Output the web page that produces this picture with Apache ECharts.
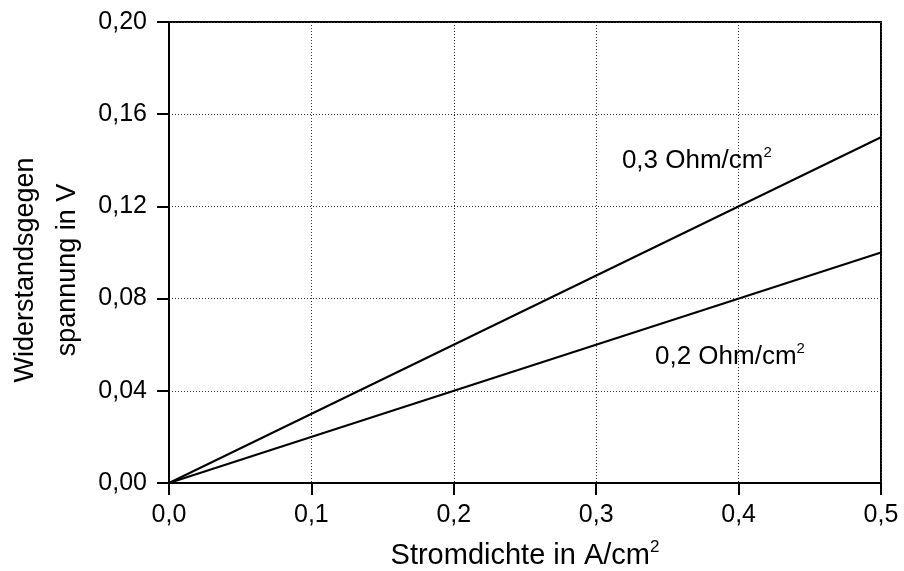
<!DOCTYPE html>
<html>
<head>
<meta charset="utf-8">
<script src="https://cdn.jsdelivr.net/npm/echarts@6/dist/echarts.min.js"></script>
<style>
  html, body { margin: 0; padding: 0; background: #fff; }
  #chart { width: 904px; height: 571px; }
</style>
</head>
<body>
<div id="chart"></div>
<script>
// Ohmic voltage drop U = R * i for two area resistances
const currentDensity = [0, 0.5];          // A/cm²
const voltageR03 = [0, 0.15];             // V, 0,3 Ohm/cm²
const voltageR02 = [0, 0.10];             // V, 0,2 Ohm/cm²
const seriesNames = ['0,3 Ohm/cm', '0,2 Ohm/cm'];

const FONT = 'Liberation Sans, Arial, Helvetica, sans-serif';
const comma = (v, d) => v.toFixed(d).replace('.', ',');

const pairs = (xs, ys) => xs.map((x, i) => [x, ys[i]]);

const chart = echarts.init(document.getElementById('chart'), null, { renderer: 'canvas' });

const labelRich = {
  b: { fontSize: 26, fontFamily: FONT, color: '#000', lineHeight: 30 },
  s: { fontSize: 15, fontFamily: FONT, color: '#000', lineHeight: 15, verticalAlign: 'top' }
};

function note(text, coord) {
  return {
    symbol: 'circle',
    symbolSize: 0,
    silent: true,
    data: [{ coord: coord }],
    label: {
      show: true,
      position: 'inside',
      formatter: '{b|' + text + '}{s|2}',
      rich: labelRich
    }
  };
}

chart.setOption({
  animation: false,
  backgroundColor: '#fff',
  grid: {
    left: 169, right: 23, top: 22, bottom: 88,
    containLabel: false,
    outerBoundsMode: 'none',
    show: true, borderColor: '#000', borderWidth: 2, backgroundColor: 'transparent'
  },
  graphic: [{
    type: 'text',
    x: 47, y: 270,
    rotation: Math.PI / 2,
    silent: true,
    style: {
      text: 'Widerstandsgegen\nspannung in V',
      fontSize: 27,
      fontFamily: FONT,
      fill: '#000',
      align: 'center',
      verticalAlign: 'middle',
      lineHeight: 42
    }
  }],
  xAxis: {
    type: 'value', min: 0, max: 0.5, interval: 0.1,
    name: '{b|Stromdichte in A/cm}{s|2}',
    nameLocation: 'middle', nameGap: 56,
    nameTextStyle: {
      rich: {
        b: { fontSize: 29, fontFamily: FONT, color: '#000', lineHeight: 33 },
        s: { fontSize: 17, fontFamily: FONT, color: '#000', lineHeight: 17, verticalAlign: 'top' }
      }
    },
    axisLine: { show: true, lineStyle: { color: '#000', width: 2 } },
    axisTick: { show: true, inside: false, length: 12, lineStyle: { color: '#000', width: 2 } },
    axisLabel: { color: '#000', fontSize: 25, fontFamily: FONT, margin: 20, formatter: v => comma(v, 1) },
    splitLine: { show: true, lineStyle: { color: '#333', width: 1, type: [1, 2] } }
  },
  yAxis: {
    type: 'value', min: 0, max: 0.2, interval: 0.04,
    axisLine: { show: true, lineStyle: { color: '#000', width: 2 } },
    axisTick: { show: true, inside: false, length: 12, lineStyle: { color: '#000', width: 2 } },
    axisLabel: { color: '#000', fontSize: 25, fontFamily: FONT, margin: 22, formatter: v => comma(v, 2) },
    splitLine: { show: true, lineStyle: { color: '#333', width: 1, type: [1, 2] } }
  },
  series: [
    {
      name: seriesNames[0], type: 'line', data: pairs(currentDensity, voltageR03),
      showSymbol: false, symbol: 'none',
      lineStyle: { color: '#000', width: 2 },
      markPoint: note(seriesNames[0], [0.3707, 0.1398])
    },
    {
      name: seriesNames[1], type: 'line', data: pairs(currentDensity, voltageR02),
      showSymbol: false, symbol: 'none',
      lineStyle: { color: '#000', width: 2 },
      markPoint: note(seriesNames[1], [0.3939, 0.0548])
    }
  ]
});
</script>
</body>
</html>
